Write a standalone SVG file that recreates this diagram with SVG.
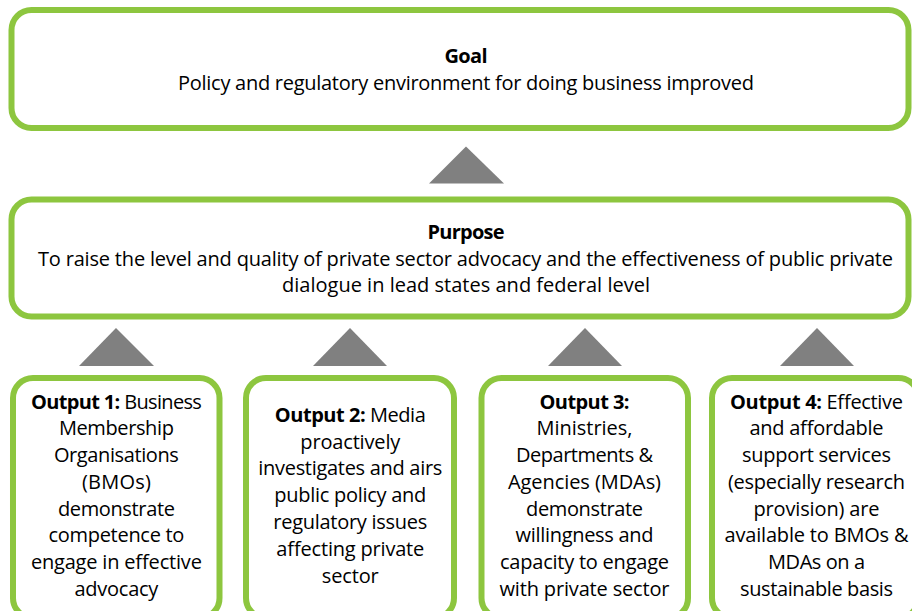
<svg xmlns="http://www.w3.org/2000/svg" width="912" height="611" viewBox="0 0 912 611">
  <style>
    .box { fill: #ffffff; stroke: #8dc63f; stroke-width: 6; }
    .tri { fill: #808080; }
    text { font-family: "Open Sans", "Noto Sans", "Liberation Sans", sans-serif; font-size: 20px; fill: #000000; text-anchor: middle; }
    .b { font-weight: bold; }
  </style>
  <rect x="0" y="0" width="912" height="611" fill="#ffffff"/>

  <!-- upward arrows between levels -->
  <g id="connectors">
    <polygon class="tri" points="466,146.5 504,183.5 429,183.5"/>
    <polygon class="tri" points="116,328 154,366 79,366"/>
    <polygon class="tri" points="350,328 387,366 313,366"/>
    <polygon class="tri" points="585,328 622,366 548,366"/>
    <polygon class="tri" points="817,328 854,366 780,366"/>
  </g>

  <g id="goal">
    <rect class="box" x="11.5" y="10" width="897" height="118" rx="20"/>
    <text class="b" x="466" y="62.5" textLength="43">Goal</text>
    <text x="466" y="89.5" textLength="576">Policy and regulatory environment for doing business improved</text>
  </g>

  <g id="purpose">
    <rect class="box" x="11.5" y="199.5" width="897" height="117" rx="20"/>
    <text class="b" x="466" y="238.5" textLength="77">Purpose</text>
    <text x="465.5" y="265.5" textLength="855">To raise the level and quality of private sector advocacy and the effectiveness of public private</text>
    <text x="466" y="292" textLength="368">dialogue in lead states and federal level</text>
  </g>

  <g id="output1">
    <rect class="box" x="13" y="378" width="206.5" height="240" rx="20"/>
    <text x="116.4" y="408.5" textLength="171"><tspan class="b">Output 1:</tspan> Business</text>
    <text x="116.4" y="435.3" textLength="115">Membership</text>
    <text x="116.4" y="462" textLength="125">Organisations</text>
    <text x="116.4" y="488.8" textLength="69">(BMOs)</text>
    <text x="116.4" y="515.5" textLength="117">demonstrate</text>
    <text x="116.4" y="542.3" textLength="136">competence to</text>
    <text x="116.4" y="569" textLength="171">engage in effective</text>
    <text x="116.4" y="595.8" textLength="84">advocacy</text>
  </g>

  <g id="output2">
    <rect class="box" x="246" y="378" width="208" height="240" rx="20"/>
    <text x="350.3" y="421.8" textLength="151"><tspan class="b">Output 2:</tspan> Media</text>
    <text x="350.3" y="448.6" textLength="100">proactively</text>
    <text x="350.3" y="475.4" textLength="184">investigates and airs</text>
    <text x="350.3" y="502.2" textLength="152">public policy and</text>
    <text x="350.3" y="529" textLength="154">regulatory issues</text>
    <text x="350.3" y="555.8" textLength="148">affecting private</text>
    <text x="350.3" y="582.6" textLength="57">sector</text>
  </g>

  <g id="output3">
    <rect class="box" x="481.5" y="378" width="206.5" height="240" rx="20"/>
    <text class="b" x="584.5" y="408.5" textLength="90">Output 3:</text>
    <text x="584.5" y="435.3" textLength="96">Ministries,</text>
    <text x="584.5" y="462" textLength="137">Departments &amp;</text>
    <text x="584.5" y="488.8" textLength="153">Agencies (MDAs)</text>
    <text x="584.5" y="515.5" textLength="117">demonstrate</text>
    <text x="584.5" y="542.3" textLength="138">willingness and</text>
    <text x="584.5" y="569" textLength="169">capacity to engage</text>
    <text x="584.5" y="595.8" textLength="170">with private sector</text>
  </g>

  <g id="output4">
    <rect class="box" x="712" y="378" width="206.5" height="240" rx="20"/>
    <text x="816.5" y="408.5" textLength="173"><tspan class="b">Output 4:</tspan> Effective</text>
    <text x="816.5" y="435.3" textLength="134">and affordable</text>
    <text x="816.5" y="462" textLength="149">support services</text>
    <text x="816.5" y="488.8" textLength="177">(especially research</text>
    <text x="816.5" y="515.5" textLength="126">provision) are</text>
    <text x="816.5" y="542.3" textLength="184">available to BMOs &amp;</text>
    <text x="816.5" y="569" textLength="97">MDAs on a</text>
    <text x="816.5" y="595.8" textLength="153">sustainable basis</text>
  </g>
</svg>
